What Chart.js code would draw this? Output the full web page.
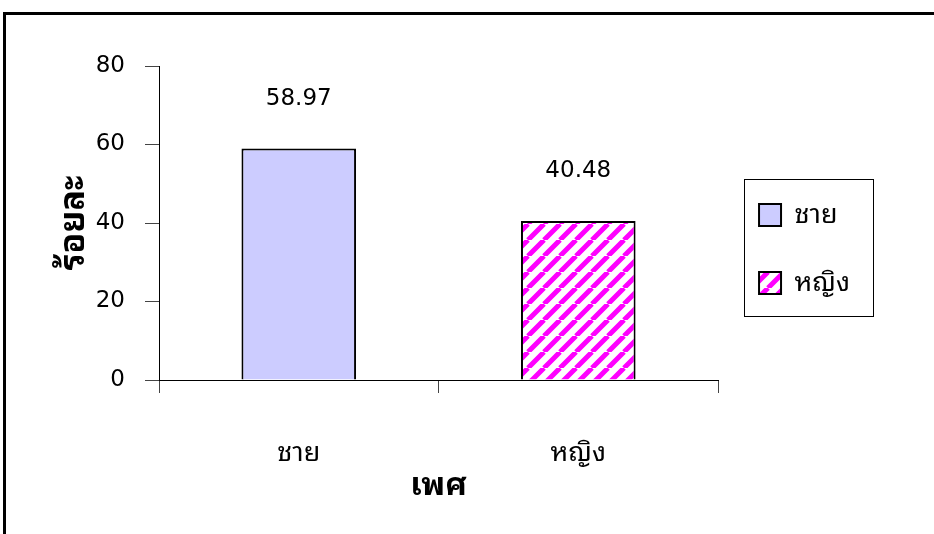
<!DOCTYPE html>
<html>
<head>
<meta charset="utf-8">
<script src="https://cdn.jsdelivr.net/npm/chart.js@4/dist/chart.umd.min.js"></script>
<style>
  html, body { margin: 0; padding: 0; background: #fff; overflow: hidden; }
  canvas { display: block; }
</style>
</head>
<body>
<canvas id="chart" width="934" height="534"></canvas>
<script>
// Percentage of respondents by sex
const categories = ['ชาย', 'หญิง'];
const percentValues = [58.97, 40.48];
const yTickValues = [0, 20, 40, 60, 80];
const yAxisTitle = 'ร้อยละ';
const xAxisTitle = 'เพศ';

const THAI_FONT = "'Noto Sans Thai Looped', 'Loma', 'Garuda', 'Noto Sans Thai', 'Noto Sans', sans-serif";
const NUM_FONT = "'DejaVu Sans', 'Noto Sans', sans-serif";
const canvas = document.getElementById('chart');
const ctx = canvas.getContext('2d');

// Layout geometry
const LEGEND_FONT = 27;
const LEGEND_BOX = 22;
const LEGEND_PAD = 41;
const PLOT_RIGHT = 718;
const PAD_LEFT = 10;
const Y_AXIS_WIDTH = 149;

// Magenta "/" diagonal stripes on white
function stripePattern() {
  const s = 16;
  const tile = document.createElement('canvas');
  tile.width = s; tile.height = s;
  const g = tile.getContext('2d');
  g.fillStyle = '#ffffff';
  g.fillRect(0, 0, s, s);
  g.strokeStyle = '#ff00ff';
  g.lineWidth = 5;
  g.beginPath();
  for (const o of [-s, 0, s]) { g.moveTo(o, s); g.lineTo(o + s, 0); }
  g.stroke();
  return ctx.createPattern(tile, 'repeat');
}
const barFills = ['#ccccff', stripePattern()];

// Right padding so the legend sits just right of the plot
ctx.font = LEGEND_FONT + 'px ' + THAI_FONT;
const widestLegendText = Math.max(...categories.map(t => ctx.measureText(t).width));
const legendWidth = LEGEND_PAD + LEGEND_BOX + LEGEND_FONT / 2 + widestLegendText + 10;
const padRight = Math.max(0, Math.round(canvas.width - PLOT_RIGHT - legendWidth));

// White page with the heavy outer frame
const pageFrame = {
  id: 'pageFrame',
  beforeDraw(chart) {
    const c = chart.ctx;
    c.save();
    c.fillStyle = '#fff';
    c.fillRect(0, 0, chart.width, chart.height);
    c.strokeStyle = '#000';
    c.lineWidth = 3;
    c.beginPath();
    c.moveTo(4.5, chart.height + 2);
    c.lineTo(4.5, 13.5);
    c.lineTo(chart.width + 2, 13.5);
    c.stroke();
    c.restore();
  }
};

// Value printed above each bar
const valueLabels = {
  id: 'valueLabels',
  afterDatasetsDraw(chart) {
    const c = chart.ctx;
    const meta = chart.getDatasetMeta(0);
    c.save();
    c.font = '23px ' + NUM_FONT;
    c.fillStyle = '#000';
    c.textAlign = 'center';
    c.textBaseline = 'middle';
    meta.data.forEach((bar, i) => {
      c.fillText(percentValues[i].toFixed(2), bar.x, bar.y - 50);
    });
    c.restore();
  }
};

// Thin box around the legend entries
const legendFrame = {
  id: 'legendFrame',
  afterDraw(chart) {
    const boxes = chart.legend && chart.legend.legendHitBoxes;
    if (!boxes || !boxes.length) return;
    const left = boxes[0].left - 15;
    const right = left + 129;
    const firstMid = boxes[0].top + boxes[0].height / 2;
    const last = boxes[boxes.length - 1];
    const lastMid = last.top + last.height / 2;
    const top = firstMid - 36;
    const bottom = lastMid + 33;
    const c = chart.ctx;
    c.save();
    c.strokeStyle = '#000';
    c.lineWidth = 1;
    c.strokeRect(Math.round(left) + 0.5, Math.round(top) + 0.5, Math.round(right - left), Math.round(bottom - top));
    c.restore();
  }
};

new Chart(ctx, {
  type: 'bar',
  data: {
    labels: categories,
    datasets: [{
      data: percentValues,
      backgroundColor: barFills,
      borderColor: '#000',
      borderWidth: 2,
      categoryPercentage: 1,
      barPercentage: 0.41
    }]
  },
  options: {
    responsive: false,
    devicePixelRatio: 1,
    animation: false,
    layout: { padding: { left: PAD_LEFT, top: 66, right: padRight, bottom: 29 } },
    plugins: {
      tooltip: { enabled: false },
      legend: {
        position: 'right',
        fullSize: false,
        onClick: () => {},
        title: { display: true, text: '', padding: { top: 42, bottom: 0 }, font: { size: 10, lineHeight: 1 } },
        labels: {
          boxWidth: LEGEND_BOX,
          boxHeight: LEGEND_BOX,
          padding: LEGEND_PAD,
          color: '#000',
          font: { size: LEGEND_FONT, family: THAI_FONT },
          generateLabels: () => categories.map((name, i) => ({
            text: name,
            fillStyle: barFills[i],
            strokeStyle: '#000',
            lineWidth: 2,
            fontColor: '#000',
            hidden: false,
            index: i,
            datasetIndex: 0
          }))
        }
      }
    },
    scales: {
      y: {
        min: 0,
        max: 80,
        afterBuildTicks: (scale) => { scale.ticks = yTickValues.map(v => ({ value: v })); },
        afterFit: (scale) => { scale.width = Y_AXIS_WIDTH; },
        ticks: { color: '#000', font: { size: 23, family: NUM_FONT }, padding: 20 },
        grid: { drawOnChartArea: false, tickLength: 14, color: '#444' },
        border: { color: '#000', width: 1 },
        title: {
          display: true,
          text: yAxisTitle,
          color: '#000',
          font: { size: 34, weight: 'bold', family: THAI_FONT },
          padding: { top: 44, bottom: 0 }
        }
      },
      x: {
        afterFit: (scale) => { scale.height = 125; },
        ticks: { color: '#000', font: { size: 27, family: THAI_FONT }, padding: 44 },
        grid: { drawOnChartArea: false, offset: true, tickLength: 13, color: '#444' },
        border: { color: '#000', width: 1 },
        title: {
          display: true,
          text: xAxisTitle,
          color: '#000',
          font: { size: 32, weight: 'bold', family: THAI_FONT },
          padding: { top: 0, bottom: 0 }
        }
      }
    }
  },
  plugins: [pageFrame, valueLabels, legendFrame]
});
</script>
</body>
</html>
